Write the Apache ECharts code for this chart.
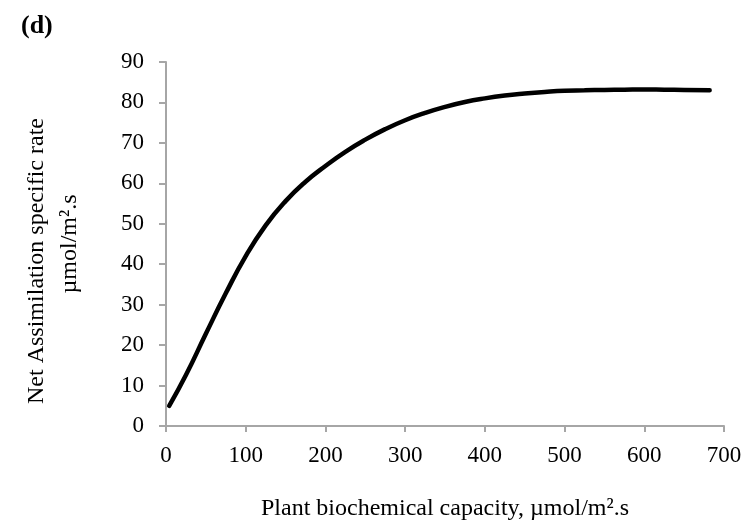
<!DOCTYPE html>
<html>
<head>
<meta charset="utf-8">
<script src="https://cdn.jsdelivr.net/npm/echarts@6/dist/echarts.min.js"></script>
<style>html,body{margin:0;padding:0;background:#fff}#c{width:753px;height:522px}</style>
</head>
<body>
<div id="c"></div>
<script>
const capacity = [4, 25, 50, 75, 100, 125, 150, 175, 200, 225, 250, 275, 300, 325, 350, 375, 400, 425, 450, 475, 500, 525, 550, 575, 600, 625, 650, 682];
const assimilation = [5.0, 12.6, 22.8, 32.8, 42.0, 49.6, 55.6, 60.4, 64.3, 67.8, 70.8, 73.4, 75.6, 77.4, 78.9, 80.1, 81.0, 81.7, 82.2, 82.6, 82.9, 83.0, 83.1, 83.15, 83.2, 83.15, 83.1, 83.0];
const xTicks = [0, 100, 200, 300, 400, 500, 600, 700];
const yTicks = [0, 10, 20, 30, 40, 50, 60, 70, 80, 90];

const font = '"Liberation Serif", "Times New Roman", serif';
const axisGray = '#a6a6a6';
const chart = echarts.init(document.getElementById('c'), null, {renderer: 'canvas'});
chart.setOption({
  animation: false,
  backgroundColor: '#ffffff',
  title: {
    text: '(d)', left: 16, top: 8,
    textStyle: {fontFamily: font, fontWeight: 'bold', fontSize: 26, color: '#000'}
  },
  grid: {left: 166, right: 29, top: 62, bottom: 96, outerBoundsMode: 'none', containLabel: false},
  xAxis: {
    type: 'value', min: xTicks[0], max: xTicks[xTicks.length - 1], interval: 100,
    name: 'Plant biochemical capacity, µmol/m².s',
    nameLocation: 'middle', nameGap: 71,
    nameTextStyle: {fontFamily: font, fontSize: 24, color: '#000'},
    axisLine: {show: true, lineStyle: {color: axisGray, width: 2}},
    axisTick: {show: true, length: 6, lineStyle: {color: axisGray, width: 2}},
    axisLabel: {fontFamily: font, fontSize: 23, color: '#000', margin: 18},
    splitLine: {show: false}
  },
  yAxis: {
    type: 'value', min: yTicks[0], max: yTicks[yTicks.length - 1], interval: 10,
    name: '{a|Net Assimilation specific rate}\n{b|µmol/m².s}',
    nameLocation: 'middle', nameGap: 80, nameRotate: 90,
    nameTextStyle: {
      fontFamily: font, fontSize: 24, color: '#000', lineHeight: 33, align: 'center',
      rich: {
        a: {fontFamily: font, fontSize: 24, color: '#000', lineHeight: 33, padding: [0, 34, 0, 0]},
        b: {fontFamily: font, fontSize: 24, color: '#000', lineHeight: 33}
      }
    },
    axisLine: {show: true, lineStyle: {color: axisGray, width: 2}},
    axisTick: {show: true, length: 7, lineStyle: {color: axisGray, width: 2}},
    axisLabel: {fontFamily: font, fontSize: 23, color: '#000', margin: 22},
    splitLine: {show: false}
  },
  series: [{
    type: 'line',
    data: capacity.map((x, i) => [x, assimilation[i]]),
    smooth: 0.5,
    showSymbol: false,
    lineStyle: {color: '#000', width: 4.5, cap: 'round'}
  }]
});
</script>
</body>
</html>
